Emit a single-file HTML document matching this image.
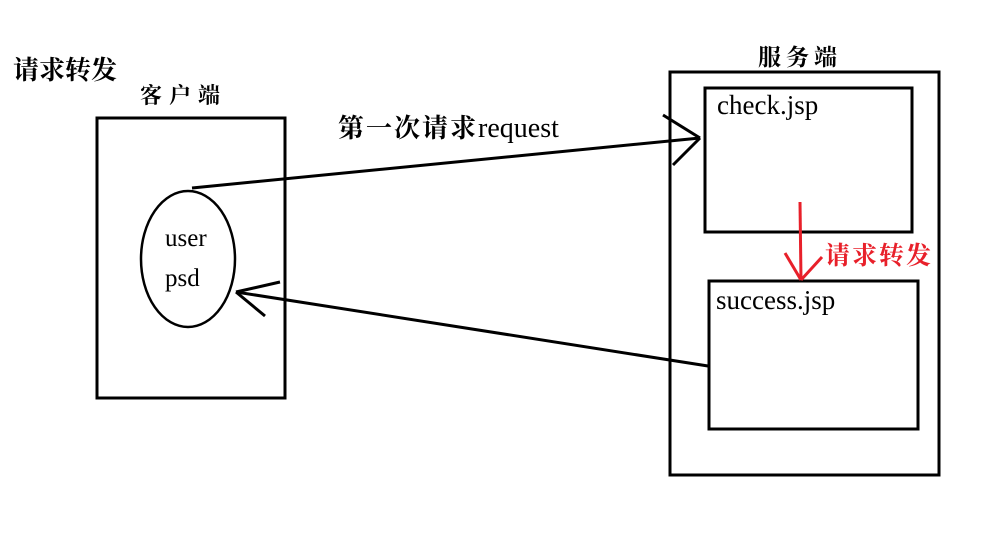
<!DOCTYPE html>
<html><head><meta charset="utf-8"><style>
html,body{margin:0;padding:0;background:#fff;width:998px;height:539px;overflow:hidden}
text{font-family:"Liberation Serif","Noto Serif CJK SC",serif;fill:#000}
</style></head><body>
<svg width="998" height="539" viewBox="0 0 998 539" xmlns="http://www.w3.org/2000/svg">
<g fill="none" stroke="#000" stroke-width="3">
<rect x="97" y="118" width="188" height="280"/>
<rect x="670" y="72" width="269" height="403"/>
<rect x="705" y="88" width="207" height="144"/>
<rect x="709" y="281" width="209" height="148"/>
<ellipse cx="188" cy="259" rx="47" ry="68" stroke-width="2.5"/>
<line x1="192" y1="188" x2="700" y2="138"/>
<line x1="663" y1="115" x2="700" y2="138"/>
<line x1="673" y1="165" x2="700" y2="138"/>
<line x1="708" y1="366" x2="236" y2="292"/>
<line x1="236" y1="292" x2="280" y2="282"/>
<line x1="236" y1="292" x2="265" y2="316"/>
</g>
<g fill="none" stroke="#e8202a" stroke-width="3">
<line x1="800" y1="202" x2="801" y2="280"/>
<line x1="785" y1="253" x2="801" y2="280"/>
<line x1="822" y1="257" x2="801" y2="280"/>
</g>
<text x="13" y="79" font-size="26" font-weight="bold">请求转发</text>
<text x="140" y="103" font-size="22" font-weight="bold" letter-spacing="7">客户端</text>
<text x="758" y="65" font-size="23" font-weight="bold" letter-spacing="5">服务端</text>
<text x="338" y="137" font-size="26" font-weight="bold" letter-spacing="2">第一次请求<tspan font-weight="normal" font-size="28" letter-spacing="0">request</tspan></text>
<text x="717" y="114" font-size="27">check.jsp</text>
<text x="716" y="309" font-size="27">success.jsp</text>
<text x="165" y="246" font-size="25">user</text>
<text x="165" y="286" font-size="25">psd</text>
<text x="825" y="264" font-size="25" font-weight="bold" letter-spacing="2" style="fill:#e8202a">请求转发</text>
</svg>
</body></html>
